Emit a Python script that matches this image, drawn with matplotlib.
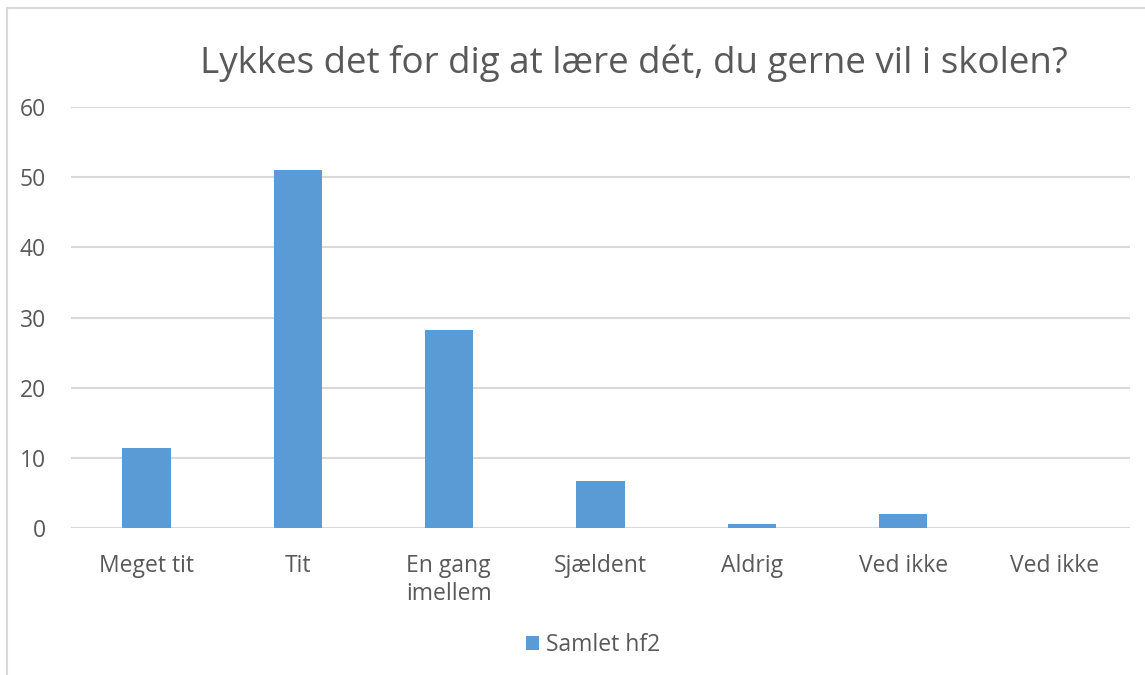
import numpy as np
import matplotlib
matplotlib.use("Agg")
import matplotlib.pyplot as plt
from matplotlib.patches import Rectangle

# data
categories = ["Meget tit", "Tit", "En gang\nimellem", "Sjældent", "Aldrig", "Ved ikke", "Ved ikke"]
values = [11.4, 51.0, 28.2, 6.7, 0.6, 2.0, 0.0]
series_name = "Samlet hf2"
title = "Lykkes det for dig at lære dét, du gerne vil i skolen?"
yticks = [0, 10, 20, 30, 40, 50, 60]

bar_color = "#5b9bd5"
text_color = "#595959"
grid_color = "#d9d9d9"

plt.rcParams['font.family'] = ['Open Sans', 'DejaVu Sans']

W, H = 1145, 675
fig = plt.figure(figsize=(W / 100, H / 100), dpi=100)

# outer chart border (cut off at the right and bottom)
fig.patches.append(Rectangle((7 / W, -0.1), 1.2, 1 - 8 / H + 0.1, transform=fig.transFigure,
                             fill=False, ec=grid_color, lw=1.5))

ax = fig.add_axes([71 / W, 1 - 528 / H, (1130 - 71) / W, (528 - 107) / H])
x = np.arange(len(categories))
ax.bar(x, values, width=0.32, color=bar_color, label=series_name, zorder=3)

ax.set_xlim(-0.5, len(categories) - 0.5)
ax.set_ylim(0, 60)
ax.set_yticks(yticks)
ax.set_yticklabels([str(t) for t in yticks])
ax.yaxis.grid(True, color=grid_color, lw=1.5, zorder=0)
ax.set_axisbelow(True)
for s in ax.spines.values():
    s.set_visible(False)
ax.tick_params(axis='both', length=0, labelsize=16.5, colors=text_color)
ax.tick_params(axis='y', pad=18)
ax.tick_params(axis='x', pad=19)
ax.set_xticks(x)
ax.set_xticklabels(categories, multialignment='left', linespacing=1.2)

fig.text(634 / W, 1 - 63 / H, title, ha='center', va='center', fontsize=26.5, color=text_color)

leg = fig.legend(loc='center', bbox_to_anchor=(593 / W, 1 - 645 / H), frameon=False,
                 fontsize=16.5, handlelength=0.6, handleheight=0.6, handletextpad=0.3)
for t in leg.get_texts():
    t.set_color(text_color)

fig.savefig("out.png", dpi=100)
